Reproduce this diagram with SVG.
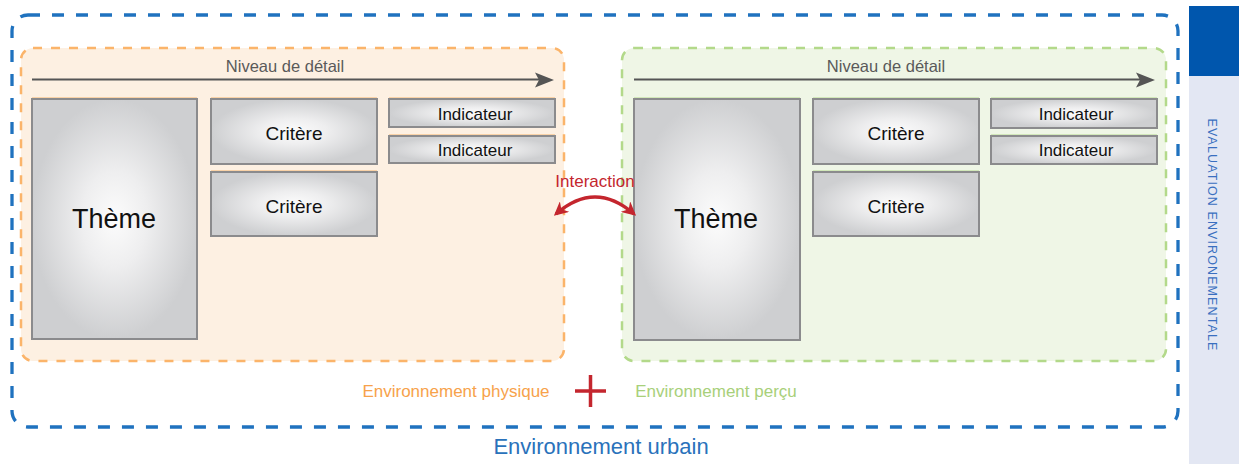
<svg xmlns="http://www.w3.org/2000/svg" width="1239" height="464" viewBox="0 0 1239 464">
  <style>
    .lbl { font-family: "Liberation Sans", Arial, sans-serif; }
    .box { stroke: #8b8b8d; stroke-width: 2; fill: url(#boxFill); }
    .theme { font-size: 27px; fill: #111; }
    .crit { font-size: 19px; fill: #111; }
    .ind { font-size: 17px; fill: #111; }
    .niveau { font-size: 16.5px; fill: #5a5a5a; }
    .axis { stroke: #555; stroke-width: 2; fill: none; }
    .head { fill: #555; }
    .tintO { stroke: #f6b36d; stroke-width: 1.2; }
    .tintG { stroke: #b6d98d; stroke-width: 1.2; }
  </style>
  <defs>
    <radialGradient id="boxFill" cx="0.5" cy="0.5" r="0.5">
      <stop offset="0" stop-color="#fcfcfc"/>
      <stop offset="0.4" stop-color="#eeeeef"/>
      <stop offset="1" stop-color="#cecfd1"/>
    </radialGradient>
    <marker id="redHead" viewBox="0 0 10 10" refX="8" refY="5" markerWidth="4.4" markerHeight="4.4" orient="auto-start-reverse" markerUnits="strokeWidth">
      <path d="M0,0 L10,5 L0,10 L3,5 Z" fill="#c4262e"/>
    </marker>
  </defs>

  <!-- side panel -->
  <g id="side-panel">
    <rect x="1189" y="76" width="50" height="388" fill="#e3e7f3"/>
    <rect x="1189" y="6" width="50" height="70" fill="#0056ad"/>
    <text class="lbl" transform="translate(1208,235) rotate(90)" text-anchor="middle" font-size="12.5" letter-spacing="1.1" fill="#3a6fc0">EVALUATION ENVIRONEMENTALE</text>
  </g>

  <!-- urban environment frame -->
  <g id="urbain">
    <rect x="12" y="15" width="1166" height="412" rx="16" fill="none" stroke="#1f72bf" stroke-width="3.3" stroke-dasharray="12 12"/>
    <text class="lbl" x="601" y="454" text-anchor="middle" font-size="22" fill="#2a72bb">Environnement urbain</text>
  </g>

  <!-- physical environment -->
  <g id="physique">
    <rect x="21" y="48" width="543" height="313" rx="12" fill="#fdf0e2" stroke="#fbb46a" stroke-width="2.5" stroke-dasharray="9 9"/>
    <text class="lbl niveau" x="285" y="72" text-anchor="middle">Niveau de détail</text>
    <line class="axis" x1="32" y1="79.5" x2="540" y2="79.5"/>
    <path class="head" d="M554,80 L535,72.5 L539,80 L535,87.5 Z"/>
  </g>
  <g id="physique-theme">
    <line class="tintO" x1="32" y1="98" x2="197" y2="98"/>
    <rect class="box" x="32" y="99" width="165" height="240"/>
    <text class="lbl theme" x="114" y="228" text-anchor="middle">Thème</text>
  </g>
  <g id="physique-critere-1">
    <line class="tintO" x1="211" y1="98" x2="377" y2="98"/>
    <rect class="box" x="211" y="99" width="166" height="65"/>
    <text class="lbl crit" x="294" y="140" text-anchor="middle">Critère</text>
  </g>
  <g id="physique-critere-2">
    <line class="tintO" x1="211" y1="171" x2="377" y2="171"/>
    <rect class="box" x="211" y="172" width="166" height="64"/>
    <text class="lbl crit" x="294" y="213" text-anchor="middle">Critère</text>
  </g>
  <g id="physique-indicateur-1">
    <line class="tintO" x1="389" y1="98" x2="555" y2="98"/>
    <rect class="box" x="389" y="99" width="166" height="28"/>
    <text class="lbl ind" x="475" y="119.5" text-anchor="middle">Indicateur</text>
  </g>
  <g id="physique-indicateur-2">
    <line class="tintO" x1="389" y1="135" x2="555" y2="135"/>
    <rect class="box" x="389" y="136" width="166" height="27"/>
    <text class="lbl ind" x="475" y="155.5" text-anchor="middle">Indicateur</text>
  </g>

  <!-- perceived environment -->
  <g id="percu">
    <rect x="622" y="48" width="544" height="313" rx="12" fill="#eff6e6" stroke="#b3d98a" stroke-width="2.5" stroke-dasharray="9 9"/>
    <text class="lbl niveau" x="886" y="72" text-anchor="middle">Niveau de détail</text>
    <line class="axis" x1="634" y1="79.5" x2="1141" y2="79.5"/>
    <path class="head" d="M1155,80 L1136,72.5 L1140,80 L1136,87.5 Z"/>
  </g>
  <g id="percu-theme">
    <line class="tintG" x1="634" y1="98" x2="800" y2="98"/>
    <rect class="box" x="634" y="99" width="166" height="241"/>
    <text class="lbl theme" x="716" y="228" text-anchor="middle">Thème</text>
  </g>
  <g id="percu-critere-1">
    <line class="tintG" x1="813" y1="98" x2="979" y2="98"/>
    <rect class="box" x="813" y="99" width="166" height="65"/>
    <text class="lbl crit" x="896" y="140" text-anchor="middle">Critère</text>
  </g>
  <g id="percu-critere-2">
    <line class="tintG" x1="813" y1="171" x2="979" y2="171"/>
    <rect class="box" x="813" y="172" width="166" height="64"/>
    <text class="lbl crit" x="896" y="213" text-anchor="middle">Critère</text>
  </g>
  <g id="percu-indicateur-1">
    <line class="tintG" x1="991" y1="98" x2="1157" y2="98"/>
    <rect class="box" x="991" y="99" width="166" height="29"/>
    <text class="lbl ind" x="1076" y="119.5" text-anchor="middle">Indicateur</text>
  </g>
  <g id="percu-indicateur-2">
    <line class="tintG" x1="991" y1="135" x2="1157" y2="135"/>
    <rect class="box" x="991" y="136" width="166" height="28"/>
    <text class="lbl ind" x="1076" y="155.5" text-anchor="middle">Indicateur</text>
  </g>

  <!-- connectors -->
  <g id="connectors">
    <path d="M556,214 Q595,180 634,214" fill="none" stroke="#c4262e" stroke-width="3.2" marker-start="url(#redHead)" marker-end="url(#redHead)"/>
    <text class="lbl" x="595" y="187" text-anchor="middle" font-size="17" fill="#c4262e">Interaction</text>
  </g>

  <!-- legend -->
  <g id="legend">
    <text class="lbl" x="456" y="397" text-anchor="middle" font-size="17" fill="#f7a24b">Environnement physique</text>
    <path d="M575,391 H606 M590.5,375 V407" stroke="#c4262e" stroke-width="3.5" fill="none"/>
    <text class="lbl" x="716" y="397" text-anchor="middle" font-size="17" fill="#a8d07a">Environnement perçu</text>
  </g>
</svg>
